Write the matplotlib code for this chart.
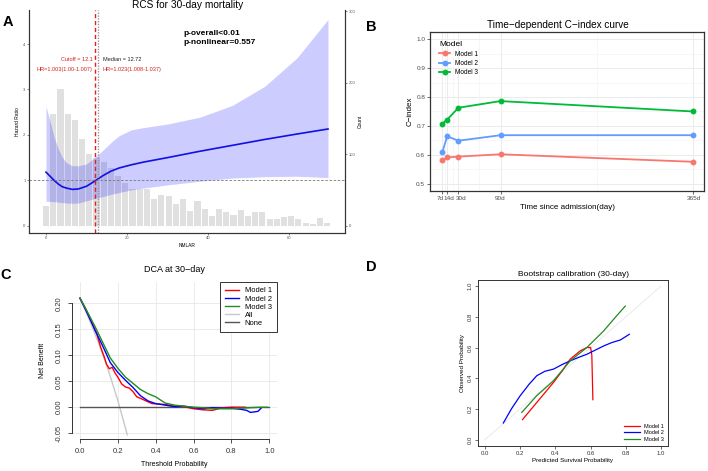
import numpy as np
import matplotlib
matplotlib.use("Agg")
import matplotlib.pyplot as plt
from matplotlib.lines import Line2D
from matplotlib.transforms import ScaledTranslation

plt.rcParams["font.family"] = ["Liberation Sans", "DejaVu Sans"]
plt.rcParams["axes.unicode_minus"] = False

# ---------------- data ----------------
# A: RCS curve for NMLAR
rcs_x = [0, 1, 2, 3, 4, 5, 6.5, 8, 10, 12, 14, 16, 18, 21, 24, 30, 38, 46, 54, 62, 69.6]
rcs_hr = [1.18, 1.09, 1.00, 0.92, 0.86, 0.83, 0.80, 0.81, 0.87, 0.98, 1.10, 1.20,
          1.27, 1.34, 1.40, 1.50, 1.64, 1.77, 1.90, 2.02, 2.13]
rcs_lower = [0.54, 0.535, 0.53, 0.52, 0.51, 0.50, 0.495, 0.50, 0.55, 0.60, 0.64, 0.69,
             0.73, 0.79, 0.83, 0.90, 0.98, 1.05, 1.08, 1.09, 1.06]
rcs_upper = [2.63, 2.30, 1.95, 1.70, 1.51, 1.39, 1.32, 1.32, 1.36, 1.50, 1.66, 1.83,
             1.98, 2.11, 2.16, 2.24, 2.39, 2.65, 3.07, 3.70, 4.54]
hist_counts = [27, 157, 192, 157, 148, 121, 101, 95, 89, 81, 69, 60, 51, 52, 52, 37,
               43, 41, 30, 37, 21, 35, 23, 13, 23, 19, 15, 22, 14, 19, 19, 9, 9, 12,
               13, 10, 4, 2, 11, 4]
bin_width = 1.78
cutoff = 12.1
median = 12.72

# B: time-dependent C-index
days = [7, 14, 30, 90, 365]
day_labels = ["7d", "14d", "30d", "90d", "365d"]
cidx_m1 = [0.581, 0.591, 0.594, 0.602, 0.576]
cidx_m2 = [0.609, 0.664, 0.649, 0.668, 0.668]
cidx_m3 = [0.708, 0.722, 0.763, 0.786, 0.750]

# C: decision curve at 30 days
dca_m1_pt = [0.0, 0.03, 0.06, 0.09, 0.11, 0.13, 0.14, 0.155, 0.17, 0.185, 0.2, 0.22,
             0.24, 0.26, 0.28, 0.30, 0.32, 0.35, 0.38, 0.42, 0.46, 0.5, 0.55, 0.6,
             0.65, 0.7, 0.75, 0.8, 0.872]
dca_m1_nb = [0.21, 0.19, 0.165, 0.14, 0.115, 0.095, 0.083, 0.074, 0.077, 0.066, 0.058,
             0.045, 0.039, 0.037, 0.030, 0.020, 0.017, 0.012, 0.007, 0.006, 0.005,
             0.002, 0.001, -0.003, -0.005, -0.006, -0.001, 0.0, 0.0]
dca_m2_pt = [0.0, 0.04, 0.08, 0.12, 0.16, 0.2, 0.24, 0.28, 0.32, 0.36, 0.4, 0.45, 0.5,
             0.55, 0.6, 0.65, 0.7, 0.75, 0.8, 0.85, 0.88, 0.9, 0.92, 0.94, 0.956]
dca_m2_nb = [0.21, 0.18, 0.148, 0.118, 0.086, 0.067, 0.052, 0.038, 0.022, 0.012, 0.007,
             0.004, 0.001, 0.002, -0.001, -0.003, -0.001, -0.002, -0.002, -0.004,
             -0.006, -0.010, -0.009, -0.008, -0.002]
dca_m3_pt = [0.0, 0.04, 0.08, 0.12, 0.16, 0.2, 0.24, 0.28, 0.32, 0.36, 0.4, 0.45, 0.5,
             0.55, 0.6, 0.65, 0.7, 0.75, 0.8, 0.85, 0.9, 0.95, 0.99]
dca_m3_nb = [0.21, 0.183, 0.155, 0.125, 0.095, 0.075, 0.058, 0.046, 0.034, 0.026, 0.020,
             0.008, 0.004, 0.002, 0.0, -0.001, -0.003, -0.003, -0.003, -0.002, -0.001,
             0.0, 0.0]
dca_all_pt = [0.0, 0.05, 0.1, 0.15, 0.2, 0.25]
dca_all_nb = [0.21, 0.168, 0.122, 0.071, 0.013, -0.053]

# D: bootstrap calibration
cal_m1_x = [0.213, 0.30, 0.389, 0.44, 0.484, 0.541, 0.579, 0.60, 0.607, 0.613]
cal_m1_y = [0.13, 0.25, 0.372, 0.45, 0.524, 0.578, 0.60, 0.60, 0.55, 0.26]
cal_m2_x = [0.104, 0.15, 0.2, 0.25, 0.294, 0.34, 0.389, 0.44, 0.484, 0.53, 0.579,
            0.63, 0.674, 0.72, 0.769, 0.82]
cal_m2_y = [0.108, 0.20, 0.286, 0.36, 0.416, 0.445, 0.459, 0.49, 0.513, 0.535, 0.556,
            0.585, 0.61, 0.632, 0.649, 0.686]
cal_m3_x = [0.209, 0.294, 0.389, 0.484, 0.579, 0.674, 0.731, 0.797]
cal_m3_y = [0.177, 0.286, 0.383, 0.513, 0.60, 0.708, 0.784, 0.87]

W, H = 708, 471
fig = plt.figure(figsize=(W / 100, H / 100), dpi=100)


def px_axes(x0, y0, x1, y1):
    return fig.add_axes([x0 / W, 1 - y1 / H, (x1 - x0) / W, (y1 - y0) / H])


# ---------------- panel A ----------------
axA = px_axes(29, 10, 345, 233)
axA2 = axA.twinx()
centers = np.arange(len(hist_counts)) * bin_width
axA2.bar(centers, hist_counts, width=bin_width * 0.85, color="#E0E0E0", zorder=1)
axA2.set_ylim(-10.2, 302)
axA.set_zorder(axA2.get_zorder() + 1)
axA.patch.set_visible(False)

axA.fill_between(rcs_x, rcs_lower, rcs_upper, color="#0000FF", alpha=0.2, lw=0)
axA.plot(rcs_x, rcs_hr, color="#1010E6", lw=1.2)
axA.axhline(1, color="#777777", ls=(0, (3, 2)), lw=0.6)
axA.axvline(cutoff, color="#E02020", ls=(0, (3, 2)), lw=1.0)
axA.axvline(median, color="#999999", ls=(0, (1, 1)), lw=1.0)
axA.set_xlim(-4.2, 73.8)
axA.set_ylim(-0.16, 4.75)

axA.text(11.5, 3.67, "Cutoff = 12.1", color="#D42020", fontsize=4, ha="right", va="center")
axA.text(11.5, 3.43, "HR=1.003(1.00-1.007)", color="#D42020", fontsize=4, ha="right", va="center")
axA.text(14.0, 3.67, "Median = 12.72", color="#222222", fontsize=4, ha="left", va="center")
axA.text(14.0, 3.43, "HR=1.023(1.008-1.037)", color="#D42020", fontsize=4, ha="left", va="center")
axA.text(34, 4.24, "p-overall<0.01", fontsize=6, fontweight="bold", ha="left", va="center")
axA.text(34, 4.04, "p-nonlinear=0.557", fontsize=6, fontweight="bold", ha="left", va="center")

fig.text(188 / W, 1 - 5 / H, "RCS for 30-day mortality", fontsize=7.3, ha="center", va="center")
axA.set_xticks([0, 20, 40, 60])
axA.set_yticks([0, 1, 2, 3, 4])
axA2.set_yticks([0, 100, 200, 300])
for a in (axA, axA2):
    a.tick_params(labelsize=3, colors="#555555", length=1.5, width=0.5, pad=1)
    a.spines["top"].set_visible(False)
    for s in ("left", "right", "bottom"):
        a.spines[s].set_color("#333333")
        a.spines[s].set_linewidth(0.8)
axA.set_xlabel("NMLAR", fontsize=3.5, labelpad=1.5)
axA.set_ylabel("Hazard Ratio", fontsize=3.5, labelpad=2)
axA2.set_ylabel("Count", fontsize=3.5, labelpad=2)

# ---------------- panel B ----------------
axB = px_axes(430, 32, 704, 191)
cols_b = ["#F8766D", "#619CFF", "#00BA38"]
for vals, c, lab in zip([cidx_m1, cidx_m2, cidx_m3], cols_b, ["Model 1", "Model 2", "Model 3"]):
    axB.plot(days, vals, color=c, lw=1.3, marker="o", ms=3.2, label=lab, zorder=3)
axB.set_xlim(-10.5, 380)
axB.set_ylim(0.475, 1.025)
axB.set_xticks(days)
axB.set_xticklabels(day_labels)
axB.set_xticks([10.5, 22, 60, 227.5], minor=True)
axB.set_yticks([0.5, 0.6, 0.7, 0.8, 0.9, 1.0])
axB.set_yticks([0.55, 0.65, 0.75, 0.85, 0.95], minor=True)
axB.grid(which="major", color="#EBEBEB", lw=0.7)
axB.grid(which="minor", color="#F2F2F2", lw=0.4)
axB.set_axisbelow(True)
axB.tick_params(which="major", labelsize=4.6, colors="#333333", labelcolor="#4D4D4D",
                length=2, width=0.5, pad=1.5)
axB.tick_params(which="minor", length=0)
# nudge the crowded short-time labels apart, as in the original
for lbl, dx in zip(axB.get_xticklabels(), [-2.5, 1.8, 3.0, 0, 0]):
    lbl.set_transform(lbl.get_transform() + ScaledTranslation(dx / 100, 0, fig.dpi_scale_trans))
for s in axB.spines.values():
    s.set_color("#333333")
    s.set_linewidth(0.9)
fig.text(558 / W, 1 - 25 / H, "Time\u2212dependent C\u2212index curve", fontsize=7.2,
         ha="center", va="center")
axB.set_xlabel("Time since admission(day)", fontsize=5.8, labelpad=2)
axB.set_ylabel("C\u2212index", fontsize=5.8, labelpad=2)
legB = axB.legend(loc="upper left", bbox_to_anchor=(0.02, 0.965), frameon=False,
                  fontsize=4.7, title="Model", title_fontsize=6, handlelength=1.6,
                  labelspacing=0.35, borderaxespad=0.2, handletextpad=0.8)
legB._legend_box.align = "left"

# ---------------- panel C ----------------
axC = px_axes(72.4, 282, 276.9, 439)
axC.set_xlim(-0.04, 1.04)
axC.set_ylim(-0.0612, 0.2412)
axC.grid(color="#E8E8E8", lw=0.6)
axC.set_axisbelow(True)
axC.plot(dca_all_pt, dca_all_nb, color="#C8C8C8", lw=1.0, label="All")
axC.plot([0, 1], [0, 0], color="#555555", lw=1.0, label="None")
axC.plot(dca_m1_pt, dca_m1_nb, color="#FF0000", lw=1.0, label="Model 1")
axC.plot(dca_m2_pt, dca_m2_nb, color="#0000FF", lw=1.0, label="Model 2")
axC.plot(dca_m3_pt, dca_m3_nb, color="#228B22", lw=1.0, label="Model 3")
axC.spines["top"].set_visible(False)
axC.spines["right"].set_visible(False)
axC.spines["bottom"].set_bounds(0, 1)
axC.spines["left"].set_bounds(-0.05, 0.20)
for s in ("bottom", "left"):
    axC.spines[s].set_color("#333333")
    axC.spines[s].set_linewidth(0.7)
axC.set_xticks([0, 0.2, 0.4, 0.6, 0.8, 1.0])
axC.set_xticklabels(["0.0", "0.2", "0.4", "0.6", "0.8", "1.0"])
axC.set_yticks([-0.05, 0, 0.05, 0.10, 0.15, 0.20])
axC.set_yticklabels(["-0.05", "0.00", "0.05", "0.10", "0.15", "0.20"], rotation=90, va="center")
axC.tick_params(labelsize=5.5, length=3.2, width=0.6, colors="#333333", pad=3.5)
axC.set_title("DCA at 30\u2212day", fontsize=6.5, pad=7)
axC.set_xlabel("Threshold Probability", fontsize=5, labelpad=4)
axC.set_ylabel("Net Benefit", fontsize=5, labelpad=7)
hC = [Line2D([], [], color=c, lw=1.0) for c in ["#FF0000", "#0000FF", "#228B22", "#C8C8C8", "#555555"]]
legC = axC.legend(hC, ["Model 1", "Model 2", "Model 3", "All", "None"], loc="upper right",
                  bbox_to_anchor=(1, 1), borderaxespad=0, fontsize=5.4, fancybox=False,
                  edgecolor="#333333", framealpha=1, handlelength=1.9, labelspacing=0.12,
                  borderpad=0.7, handletextpad=0.7)
legC.get_frame().set_linewidth(0.7)

# ---------------- panel D ----------------
axD = px_axes(478, 280, 668, 445.7)
axD.set_xlim(-0.04, 1.04)
axD.set_ylim(-0.04, 1.04)
axD.plot([0, 1], [0, 1], color="#E6E6E6", lw=0.6)
axD.plot(cal_m1_x, cal_m1_y, color="#FF0000", lw=0.9)
axD.plot(cal_m2_x, cal_m2_y, color="#0000FF", lw=0.9)
axD.plot(cal_m3_x, cal_m3_y, color="#228B22", lw=0.9)
ticks = [0, 0.2, 0.4, 0.6, 0.8, 1.0]
tlabs = ["0.0", "0.2", "0.4", "0.6", "0.8", "1.0"]
axD.set_xticks(ticks)
axD.set_xticklabels(tlabs)
axD.set_yticks(ticks)
axD.set_yticklabels(tlabs, rotation=90, va="center")
axD.tick_params(labelsize=4.3, length=2, width=0.5, colors="#333333", pad=2)
for s in axD.spines.values():
    s.set_color("#333333")
    s.set_linewidth(0.7)
axD.set_title("Bootstrap calibration (30-day)", fontsize=6, pad=3)
axD.set_xlabel("Predicted Survival Probability", fontsize=4.5, labelpad=1)
axD.set_ylabel("Observed Probability", fontsize=4.5, labelpad=2)
hD = [Line2D([], [], color=c, lw=0.9) for c in ["#FF0000", "#0000FF", "#228B22"]]
axD.legend(hD, ["Model 1", "Model 2", "Model 3"], loc="lower right", frameon=False,
           fontsize=4, handlelength=2.8, labelspacing=0.25, borderaxespad=0.3)

# panel labels
for lab, x, y in [("A", 8, 22), ("B", 371, 27), ("C", 6, 275), ("D", 371, 267)]:
    fig.text(x / W, 1 - y / H, lab, fontsize=10.5, fontweight="bold", ha="center", va="center")

fig.savefig("out.png", dpi=100)
